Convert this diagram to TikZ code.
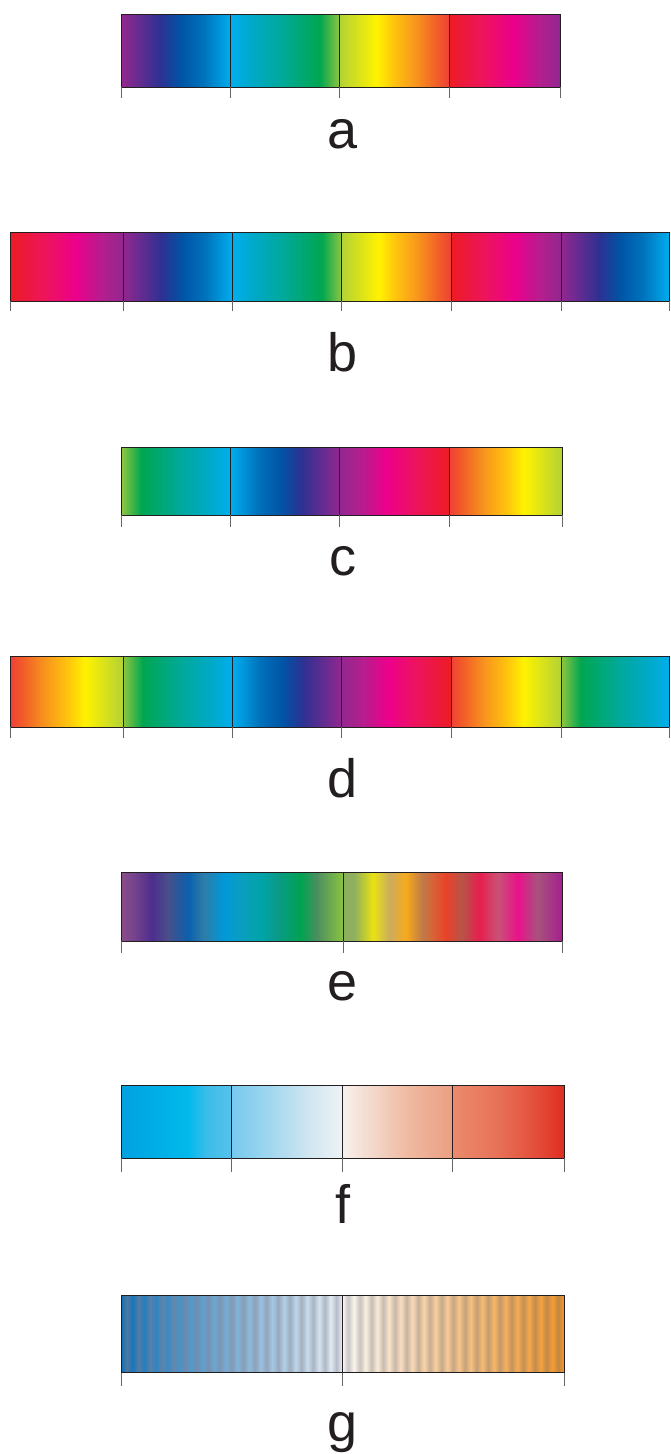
\documentclass[tikz,border=0pt]{standalone}
\usepackage{fontspec}
\setmainfont{Liberation Sans}
\definecolor{cP}{HTML}{92278F}
\definecolor{cV}{HTML}{2E3192}
\definecolor{cB}{HTML}{0054A6}
\definecolor{cBb}{HTML}{0072BC}
\definecolor{cC}{HTML}{00AEEF}
\definecolor{cCt}{HTML}{00A9C6}
\definecolor{cT}{HTML}{00A99D}
\definecolor{cG}{HTML}{00A651}
\definecolor{cLG}{HTML}{8DC63F}
\definecolor{cYG}{HTML}{B2D235}
\definecolor{cY}{HTML}{FFF200}
\definecolor{cGd}{HTML}{FFC20E}
\definecolor{cO}{HTML}{F7941D}
\definecolor{cRO}{HTML}{F15A29}
\definecolor{cRr}{HTML}{EF4136}
\definecolor{cR}{HTML}{ED1C24}
\definecolor{cCR}{HTML}{ED145B}
\definecolor{cM}{HTML}{EC008C}
\definecolor{cMP}{HTML}{B21F8E}
\definecolor{ink}{HTML}{231F20}
% segment gradients (path spans 25bp..75bp)
\pgfdeclarehorizontalshading{sPC}{100bp}{color(0bp)=(cP); color(25bp)=(cP); color(42.5bp)=(cV); color(52bp)=(cB); color(62.5bp)=(cBb); color(75bp)=(cC); color(100bp)=(cC)}
\pgfdeclarehorizontalshading{sCG}{100bp}{color(0bp)=(cC); color(25bp)=(cC); color(35bp)=(cCt); color(47.5bp)=(cT); color(66bp)=(cG); color(75bp)=(cLG); color(100bp)=(cLG)}
\pgfdeclarehorizontalshading{sYR}{100bp}{color(0bp)=(cYG); color(25bp)=(cYG); color(42bp)=(cY); color(50bp)=(cGd); color(60bp)=(cO); color(70bp)=(cRO); color(75bp)=(cRr); color(100bp)=(cRr)}
\pgfdeclarehorizontalshading{sRP}{100bp}{color(0bp)=(cR); color(25bp)=(cR); color(40bp)=(cCR); color(54bp)=(cM); color(66bp)=(cMP); color(75bp)=(cP); color(100bp)=(cP)}
% bar e
\pgfdeclarehorizontalshading{eL}{100bp}{rgb(0bp)=(0.545,0.302,0.545); rgb(25bp)=(0.545,0.302,0.545); rgb(28bp)=(0.45,0.26,0.55); rgb(31.75bp)=(0.306,0.176,0.553); rgb(35.5bp)=(0.282,0.314,0.541); rgb(40bp)=(0.043,0.376,0.682); rgb(43.5bp)=(0.18,0.49,0.66); rgb(48bp)=(0.0,0.596,0.855); rgb(52bp)=(0.04,0.62,0.75); rgb(56.5bp)=(0.0,0.643,0.659); rgb(60bp)=(0.04,0.604,0.541); rgb(65.5bp)=(0.0,0.639,0.314); rgb(69bp)=(0.298,0.557,0.376); rgb(75bp)=(0.545,0.769,0.251); rgb(100bp)=(0.545,0.769,0.251)}
\pgfdeclarehorizontalshading{eR}{100bp}{rgb(0bp)=(0.553,0.682,0.369); rgb(25bp)=(0.553,0.682,0.369); rgb(27.5bp)=(0.56,0.69,0.37); rgb(29.5bp)=(0.72,0.78,0.22); rgb(31.75bp)=(0.922,0.886,0.082); rgb(35.5bp)=(0.796,0.675,0.369); rgb(39.25bp)=(0.965,0.667,0.11); rgb(43bp)=(0.749,0.478,0.282); rgb(45.5bp)=(0.85,0.38,0.21); rgb(48.5bp)=(0.914,0.255,0.165); rgb(52bp)=(0.714,0.333,0.282); rgb(56bp)=(0.906,0.114,0.31); rgb(60.25bp)=(0.788,0.322,0.459); rgb(64.75bp)=(0.914,0.067,0.541); rgb(69.25bp)=(0.659,0.322,0.494); rgb(75bp)=(0.639,0.125,0.561); rgb(100bp)=(0.639,0.125,0.561)}
% bar f
\pgfdeclarehorizontalshading{fA}{100bp}{rgb(0bp)=(0,0.635,0.878); rgb(25bp)=(0,0.635,0.878); rgb(55bp)=(0,0.725,0.922); rgb(64bp)=(0.24,0.74,0.91); rgb(75bp)=(0.333,0.761,0.918); rgb(100bp)=(0.333,0.761,0.918)}
\pgfdeclarehorizontalshading{fB}{100bp}{rgb(0bp)=(0.459,0.788,0.933); rgb(25bp)=(0.459,0.788,0.933); rgb(45bp)=(0.659,0.851,0.937); rgb(60bp)=(0.816,0.902,0.941); rgb(75bp)=(0.933,0.949,0.961); rgb(100bp)=(0.933,0.949,0.961)}
\pgfdeclarehorizontalshading{fC}{100bp}{rgb(0bp)=(0.969,0.945,0.933); rgb(25bp)=(0.969,0.945,0.933); rgb(40bp)=(0.953,0.835,0.78); rgb(55bp)=(0.937,0.725,0.627); rgb(75bp)=(0.918,0.62,0.51); rgb(100bp)=(0.918,0.62,0.51)}
\pgfdeclarehorizontalshading{fD}{100bp}{rgb(0bp)=(0.922,0.541,0.424); rgb(25bp)=(0.922,0.541,0.424); rgb(45bp)=(0.906,0.447,0.345); rgb(60bp)=(0.894,0.325,0.243); rgb(75bp)=(0.875,0.18,0.133); rgb(100bp)=(0.875,0.18,0.133)}
% bar g : striped gradients built by a loop
\def\gLspec{rgb(0bp)=(0.04,0.44,0.72)}
\foreach \i in {0,...,38}{%
  \pgfmathsetmacro\tt{\i/38}%
  \pgfmathsetmacro\pp{25+50*\tt}%
  \ifodd\i\relax
    \pgfmathsetmacro\myr{0.30+0.42*\tt}\pgfmathsetmacro\myg{0.46+0.28*\tt}\pgfmathsetmacro\myb{0.63+0.15*\tt}%
  \else
    \pgfmathsetmacro\myr{0.04+0.89*\tt}\pgfmathsetmacro\myg{0.44+0.51*\tt}\pgfmathsetmacro\myb{0.72+0.25*\tt}%
  \fi
  \xdef\gLspec{\gLspec; rgb(\pp bp)=(\myr,\myg,\myb)}%
}
\xdef\gLspec{\gLspec; rgb(100bp)=(0.93,0.95,0.97)}
\edef\tmpdecl{\noexpand\pgfdeclarehorizontalshading{gL}{100bp}{\gLspec}}\tmpdecl
\def\gRspec{rgb(0bp)=(0.99,0.98,0.97)}
\foreach \i in {0,...,38}{%
  \pgfmathsetmacro\tt{\i/38}%
  \pgfmathsetmacro\pp{25+50*\tt}%
  \ifodd\i\relax
    \pgfmathsetmacro\myr{0.78-0.03*\tt}\pgfmathsetmacro\myg{0.78-0.26*\tt}\pgfmathsetmacro\myb{0.78-0.54*\tt}%
  \else
    \pgfmathsetmacro\myr{0.99-0.02*\tt}\pgfmathsetmacro\myg{0.98-0.39*\tt}\pgfmathsetmacro\myb{0.97-0.81*\tt}%
  \fi
  \xdef\gRspec{\gRspec; rgb(\pp bp)=(\myr,\myg,\myb)}%
}
\xdef\gRspec{\gRspec; rgb(100bp)=(0.97,0.59,0.16)}
\edef\tmpdecl{\noexpand\pgfdeclarehorizontalshading{gR}{100bp}{\gRspec}}\tmpdecl
\tikzset{
  frame/.style={draw=ink, line width=0.9pt},
  divider/.style={draw=ink, line width=0.8pt},
  tickline/.style={draw=black!60, line width=0.8pt},
  lbl/.style={anchor=base, inner sep=0pt, text=ink, font=\fontsize{54}{60}\selectfont},
  rev/.style={shading angle=180}
}
\begin{document}
\begin{tikzpicture}[x=1pt,y=-1pt]
\useasboundingbox[fill=white] (0,0) rectangle (671,1454);
% ---- a ----
\shade[shading=sPC] (121.7,14.3) rectangle (230.7,87.3);
\shade[shading=sCG] (230.7,14.3) rectangle (339.3,87.3);
\shade[shading=sYR] (339.3,14.3) rectangle (449,87.3);
\shade[shading=sRP] (449,14.3) rectangle (560,87.3);
\draw[frame] (121.7,14.3) rectangle (560,87.3);
\foreach \x in {230.7,339.3,449} \draw[divider] (\x,14.3) -- (\x,87.3);
\foreach \x in {121.7,230.7,339.3,449,560} \draw[tickline] (\x,87.3) -- (\x,98);
\node[lbl] (la) at (343,148.3) {a};
% ---- b ----
\shade[shading=sRP] (10.7,232) rectangle (123.2,301);
\shade[shading=sPC] (123.2,232) rectangle (232.3,301);
\shade[shading=sCG] (232.3,232) rectangle (341.5,301);
\shade[shading=sYR] (341.5,232) rectangle (451,301);
\shade[shading=sRP] (451,232) rectangle (561.4,301);
\shade[shading=sPC] (561.4,232) rectangle (669.7,301);
\draw[frame] (10.7,232) rectangle (669.7,301);
\foreach \x in {123.2,232.3,341.5,451,561.4} \draw[divider] (\x,232) -- (\x,301);
\foreach \x in {10.7,123.2,232.3,341.5,451,561.4,669.7} \draw[tickline] (\x,301) -- (\x,311);
\node[lbl] (lb) at (343,371) {b};
% ---- c ----
\shade[shading=sCG,rev] (121.7,447.7) rectangle (230.3,515.3);
\shade[shading=sPC,rev] (230.3,447.7) rectangle (339.7,515.3);
\shade[shading=sRP,rev] (339.7,447.7) rectangle (449.3,515.3);
\shade[shading=sYR,rev] (449.3,447.7) rectangle (562.3,515.3);
\draw[frame] (121.7,447.7) rectangle (562.3,515.3);
\foreach \x in {230.3,339.7,449.3} \draw[divider] (\x,447.7) -- (\x,515.3);
\foreach \x in {121.7,230.3,339.7,449.3,562.3} \draw[tickline] (\x,515.3) -- (\x,527);
\node[lbl] (lc) at (343,575) {c};
% ---- d ----
\shade[shading=sYR,rev] (10.7,656.7) rectangle (123.2,727.3);
\shade[shading=sCG,rev] (123.2,656.7) rectangle (232.3,727.3);
\shade[shading=sPC,rev] (232.3,656.7) rectangle (341.5,727.3);
\shade[shading=sRP,rev] (341.5,656.7) rectangle (451,727.3);
\shade[shading=sYR,rev] (451,656.7) rectangle (561.4,727.3);
\shade[shading=sCG,rev] (561.4,656.7) rectangle (669.7,727.3);
\draw[frame] (10.7,656.7) rectangle (669.7,727.3);
\foreach \x in {123.2,232.3,341.5,451,561.4} \draw[divider] (\x,656.7) -- (\x,727.3);
\foreach \x in {10.7,123.2,232.3,341.5,451,561.4,669.7} \draw[tickline] (\x,727.3) -- (\x,737.5);
\node[lbl] (ld) at (343,797) {d};
% ---- e ----
\shade[shading=eL] (121.7,872.7) rectangle (343.3,941);
\shade[shading=eR] (343.3,872.7) rectangle (562.7,941);
\draw[frame] (121.7,872.7) rectangle (562.7,941);
\draw[divider] (343.3,872.7) -- (343.3,941);
\foreach \x in {121.7,343.3,562.7} \draw[tickline] (\x,941) -- (\x,952.7);
\node[lbl] (le) at (343,1000) {e};
% ---- f ----
\shade[shading=fA] (121.7,1085) rectangle (231.3,1158.3);
\shade[shading=fB] (231.3,1085) rectangle (342,1158.3);
\shade[shading=fC] (342,1085) rectangle (452.7,1158.3);
\shade[shading=fD] (452.7,1085) rectangle (564,1158.3);
\draw[frame] (121.7,1085) rectangle (564,1158.3);
\foreach \x in {231.3,342,452.7} \draw[divider] (\x,1085) -- (\x,1158.3);
\foreach \x in {121.7,231.3,342,452.7,564} \draw[tickline] (\x,1158.3) -- (\x,1171.7);
\node[lbl] (lf) at (343,1223) {f};
% ---- g ----
\shade[shading=gL] (121,1295.7) rectangle (342.3,1372.7);
\shade[shading=gR] (342.3,1295.7) rectangle (564,1372.7);
\draw[frame] (121,1295.7) rectangle (564,1372.7);
\draw[divider] (342.3,1295.7) -- (342.3,1372.7);
\foreach \x in {121,342.3,564} \draw[tickline] (\x,1372.7) -- (\x,1386);
\node[lbl] (lg) at (343,1441) {g};
\end{tikzpicture}
\end{document}
